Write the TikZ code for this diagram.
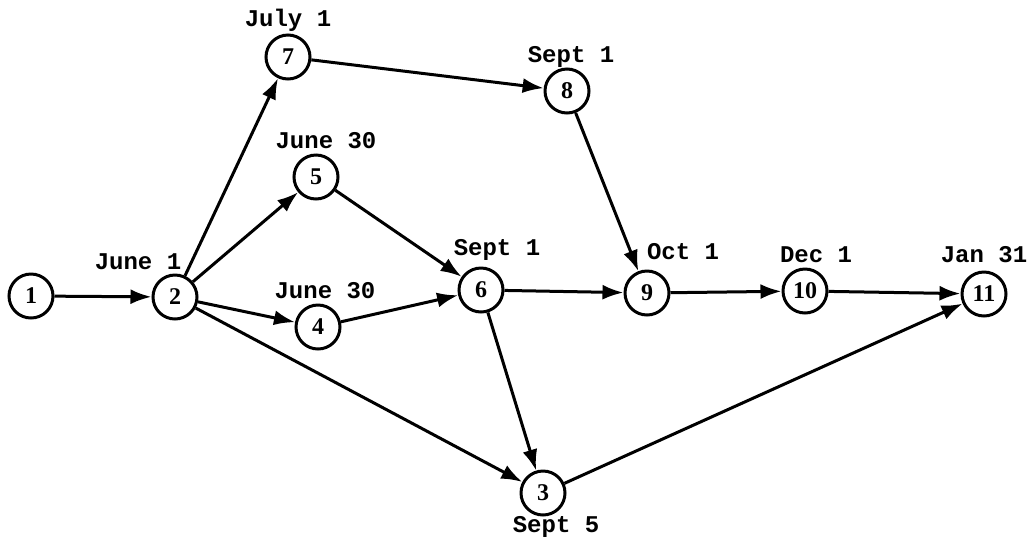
\documentclass[tikz,border=0pt]{standalone}
\usepackage{fontspec}
\setmainfont{Liberation Serif}
\newfontfamily\datefont{Liberation Mono}
\usetikzlibrary{arrows.meta}
\begin{document}
\begin{tikzpicture}[x=1pt,y=-1pt,
  event/.style={circle,draw,line width=3pt,minimum size=44pt,inner sep=0pt,
    font=\bfseries\fontsize{24}{24}\selectfont},
  date/.style={font=\datefont\bfseries\fontsize{24}{24}\selectfont,inner sep=0pt},
  act/.style={line width=3pt,-{Latex[length=21pt,width=15pt]}}]
\useasboundingbox (0,0) rectangle (1035,542);
% events
\node[event] (n1) at (31,296) {1};
\node[event] (n2) at (175,297) {2};
\node[event] (n7) at (288,57) {7};
\node[event] (n5) at (316,177) {5};
\node[event] (n4) at (318,327) {4};
\node[event] (n6) at (481,290) {6};
\node[event] (n8) at (567,91) {8};
\node[event] (n9) at (647,293) {9};
\node[event] (n10) at (805,291) {10};
\node[event] (n11) at (984,294) {11};
\node[event] (n3) at (543,493) {3};
% dates
\node[date] (d2) at (138,262) {June 1};
\node[date] (d7) at (288,20) {July 1};
\node[date] (d5) at (326,141) {June 30};
\node[date] (d4) at (325,291) {June 30};
\node[date] (d8) at (571,57) {Sept 1};
\node[date] (d6) at (497,250) {Sept 1};
\node[date] (d9) at (683,252) {Oct 1};
\node[date] (d10) at (816,255) {Dec 1};
\node[date] (d11) at (984,255) {Jan 31};
\node[date] (d3) at (556,527) {Sept 5};
% activities
\draw[act] (n1) -- (n2);
\draw[act] (n2) -- (n7);
\draw[act] (n2) -- (n5);
\draw[act] (n2) -- (n4);
\draw[act] (n2) -- (n3);
\draw[act] (n7) -- (n8);
\draw[act] (n5) -- (n6);
\draw[act] (n4) -- (n6);
\draw[act] (n8) -- (n9);
\draw[act] (n6) -- (n9);
\draw[act] (n6) -- (n3);
\draw[act] (n9) -- (n10);
\draw[act] (n10) -- (n11);
\draw[act] (n3) -- (n11);
\end{tikzpicture}
\end{document}
